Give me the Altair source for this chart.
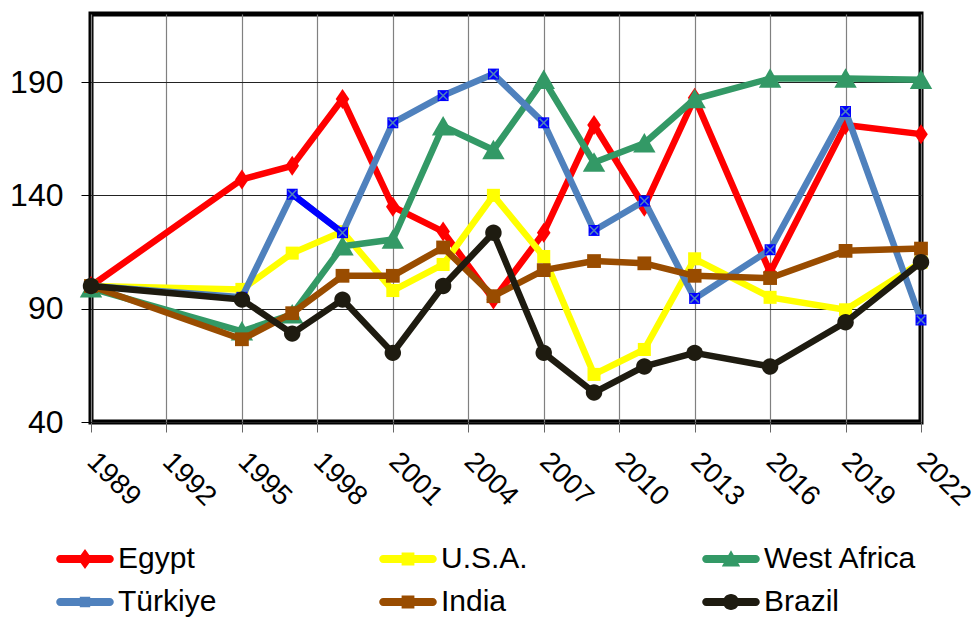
import altair as alt
import pandas as pd

# ---------------- data ----------------
years = [1989, 1995, 1997, 1999, 2001, 2003, 2005, 2007, 2009, 2011, 2013, 2016, 2019, 2022]
series_names = ["Egypt", "U.S.A.", "West Africa", "Türkiye", "India", "Brazil"]
egypt = [100, 147, 153, 182.5, 135, 124, 94, 123.5, 171, 135, 183, 106, 171, 167]
usa = [100, 98.5, 114.5, 124, 98, 109.5, 140, 113, 61, 72, 112, 95, 89.5, 110.5]
west_africa = [99, 80, 87.5, 117.5, 120.5, 170.5, 160, 191, 154.5, 163, 182.5, 191.5, 191.5, 191]
turkiye = [100, 95, 140.5, 123.5, 172, 184, 193.5, 172, 124.5, 137.5, 94.5, 116, 177, 85]
india = [100, 76.5, 88, 104.5, 104.5, 117, 95.5, 107, 111, 110, 104.5, 103.5, 115.5, 116.5]
brazil = [100, 94, 79, 94, 70.5, 100, 123.5, 70.5, 53, 64.5, 70.5, 64.5, 84, 110.5]
series_values = [egypt, usa, west_africa, turkiye, india, brazil]
turkiye_blue_years = [1997, 1999]   # segment drawn in pure blue

x_ticks = [1989, 1992, 1995, 1998, 2001, 2004, 2007, 2010, 2013, 2016, 2019, 2022]
y_ticks = [40, 90, 140, 190]

# ---------------- styles ----------------
FONT = "Liberation Sans"
line_colors = ["#FF0000", "#FFFF00", "#339966", "#4F81BD", "#994C00", "#1E1B10"]
marker_colors = ["#FF0000", "#FFFF00", "#339966", "#0000FF", "#994C00", "#1E1B10"]
DIAMOND = "M0,-1.25L0.85,0L0,1.25L-0.85,0Z"
SQUARE = "M-1,-1L1,-1L1,1L-1,1Z"
TRIANGLE = "M0,-1.05L1.15,0.95L-1.15,0.95Z"
CIRCLE = "M1,0A1,1 0 1 1 -1,0A1,1 0 1 1 1,0Z"
marker_shapes = [DIAMOND, SQUARE, TRIANGLE, SQUARE, SQUARE, CIRCLE]
marker_sizes = [256, 170, 380, 120, 190, 270]

# legend symbols: rounded bar + marker (unit = 8 px)
BAR = "M-3.1,-0.5L3.1,-0.5A0.5,0.5 0 0 1 3.1,0.5L-3.1,0.5A0.5,0.5 0 0 1 -3.1,-0.5Z"
legend_markers = [
    "M0,-1.25L0.9,0L0,1.25L-0.9,0Z",
    "M-0.8,-0.8L0.8,-0.8L0.8,0.8L-0.8,0.8Z",
    "M0,-1.1L1.15,0.95L-1.15,0.95Z",
    "M-0.65,-0.65L0.65,-0.65L0.65,0.65L-0.65,0.65Z",
    "M-0.8,-0.8L0.8,-0.8L0.8,0.8L-0.8,0.8Z",
    "M1,0A1,1 0 1 1 -1,0A1,1 0 1 1 1,0Z",
]
legend_shapes = [BAR + m for m in legend_markers]

rows = []
for name, vals in zip(series_names, series_values):
    for yr, v in zip(years, vals):
        rows.append({"series": name, "year": yr, "value": v})
df = pd.DataFrame(rows)

legend = alt.Legend(
    title=None, orient="none", legendX=-21, legendY=530, columns=3,
    direction="horizontal",
    columnPadding=108, rowPadding=13, symbolSize=256,
    labelFontSize=30, labelFont=FONT, labelColor="#000000", labelOffset=18,
    labelLimit=400, gridAlign="all", padding=0, symbolStrokeWidth=0,
    symbolOpacity=1,
)

x_enc = alt.X(
    "year:Q",
    scale=alt.Scale(domain=[1989, 2022], nice=False, zero=False),
    axis=alt.Axis(values=x_ticks, format="d", title=None, labelAngle=45,
                  labelAlign="left", labelBaseline="middle", labelPadding=25,
                  tickSize=10, tickColor="#666666", gridColor="#808080",
                  gridWidth=1.2, labelFontSize=28, labelFont=FONT,
                  labelColor="#000000", domain=False, labelOverlap=False),
)
y_enc = alt.Y(
    "value:Q",
    scale=alt.Scale(domain=[40, 220], nice=False, zero=False),
    axis=alt.Axis(values=y_ticks, title=None, tickSize=10, tickColor="#000000",
                  gridColor="#222222", gridWidth=1, labelFontSize=32,
                  labelFont=FONT, labelColor="#000000", labelPadding=18,
                  domain=False),
)

base = alt.Chart(df)
layers = []
for i, name in enumerate(series_names):
    sub = base.transform_filter(alt.datum.series == name)
    layers.append(
        sub.mark_line(strokeWidth=6.5, strokeJoin="round", strokeCap="round",
                      color=line_colors[i])
        .encode(x=x_enc, y=y_enc)
    )
    if name == "Türkiye":
        layers.append(
            sub.transform_filter(alt.FieldOneOfPredicate(field="year", oneOf=turkiye_blue_years))
            .mark_line(strokeWidth=6.5, strokeCap="round", color="#0000FF")
            .encode(x=x_enc, y=y_enc)
        )
    layers.append(
        sub.mark_point(shape=marker_shapes[i], filled=True, opacity=1,
                       size=marker_sizes[i], color=marker_colors[i])
        .encode(x=x_enc, y=y_enc)
    )
    if name == "Türkiye":
        layers.append(
            sub.mark_point(shape="M-1,-1L1,1M1,-1L-1,1", filled=False, opacity=1,
                           size=70, color=line_colors[i], strokeWidth=1.5)
            .encode(x=x_enc, y=y_enc)
        )

# legend-only layer (no marks drawn: empty after filter)
legend_layer = base.transform_filter(alt.datum.year < 0).mark_point(
    filled=True, opacity=1, strokeWidth=0
).encode(
    x=x_enc, y=y_enc,
    color=alt.Color("series:N", scale=alt.Scale(domain=series_names, range=line_colors),
                    legend=legend),
    shape=alt.Shape("series:N", scale=alt.Scale(domain=series_names, range=legend_shapes),
                    legend=legend),
)
layers.append(legend_layer)

chart = (
    alt.layer(*layers)
    .properties(width=830, height=408, background="#FFFFFF",
                autosize=alt.AutoSizeParams(type="none"),
                padding={"left": 83, "top": 6, "right": 51, "bottom": 200})
    .configure_view(stroke="#000000", strokeWidth=5)
)

chart.save("out.html", embed_options={"renderer": "svg", "actions": False})
